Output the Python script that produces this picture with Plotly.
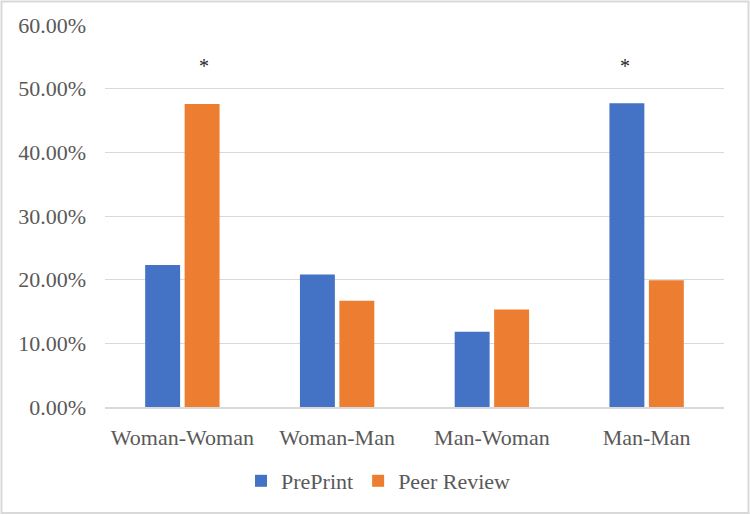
import plotly.graph_objects as go

categories = ["Woman-Woman", "Woman-Man", "Man-Woman", "Man-Man"]
preprint = [0.223, 0.208, 0.118, 0.477]
peer_review = [0.476, 0.167, 0.153, 0.199]
# significance markers: (category, series)
significant = [("Woman-Woman", "Peer Review"), ("Man-Man", "PrePrint")]
y_ticks = [0, 0.1, 0.2, 0.3, 0.4, 0.5, 0.6]

BLUE = "#4472C4"
ORANGE = "#ED7D31"
FONT = "Liberation Serif, Times New Roman, serif"
TXT = "#595959"
GRID = "#D9D9D9"

fig = go.Figure()
fig.add_trace(go.Bar(name="PrePrint", x=categories, y=preprint,
                     marker=dict(color=BLUE, line=dict(width=0))))
fig.add_trace(go.Bar(name="Peer Review", x=categories, y=peer_review,
                     marker=dict(color=ORANGE, line=dict(width=0))))

for cat, series in significant:
    shift = -22 if series == "PrePrint" else 22
    fig.add_annotation(x=cat, y=0.536, text="*", showarrow=False,
                       xshift=shift, yanchor="middle",
                       font=dict(family=FONT, size=20, color="#262626"))

L, R, T, B = 105, 26, 25, 108
W, H = 750, 515
pw, ph = W - L - R, H - T - B
fig.add_shape(type="rect", xref="paper", yref="paper",
              x0=(1.5 - L) / pw, x1=(W - 1.5 - L) / pw,
              y0=-(B - 2) / ph, y1=1 + (T - 1.5) / ph,
              line=dict(color=GRID, width=2), fillcolor="rgba(0,0,0,0)", layer="below")

fig.update_layout(
    width=W, height=H,
    margin=dict(l=L, r=R, t=T, b=B),
    paper_bgcolor="white", plot_bgcolor="white",
    barmode="group", bargap=0.49, bargroupgap=0.115,
    font=dict(family=FONT, size=22, color=TXT),
    showlegend=True,
    legend=dict(orientation="h", x=0.5 - 36 / pw, xanchor="center", y=-(481 - 407) / ph,
                yanchor="middle", font=dict(family=FONT, size=22, color=TXT),
                bgcolor="rgba(0,0,0,0)", itemwidth=30),
)
fig.update_yaxes(range=[0, 0.6], tickvals=y_ticks, tickformat=".2%",
                 showgrid=True, gridcolor=GRID, gridwidth=1,
                 zeroline=False, showline=False, ticks="", ticklabelstandoff=18,
                 tickfont=dict(family=FONT, size=22, color=TXT))
fig.update_xaxes(showline=True, linecolor=GRID, linewidth=1.5, ticks="",
                 ticklabelstandoff=10,
                 tickfont=dict(family=FONT, size=22, color=TXT))

fig.write_html("out.html", config={"displayModeBar": False},
               post_script="document.body.style.margin='0';document.body.style.overflow='hidden';")
